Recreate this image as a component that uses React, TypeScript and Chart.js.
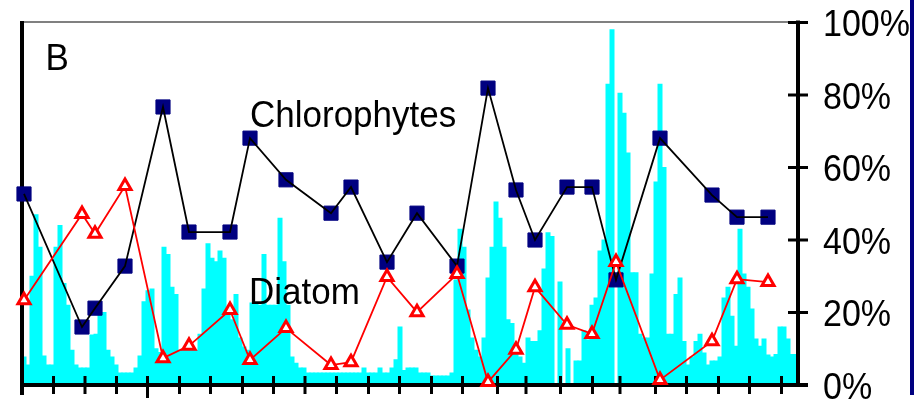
import React, { useEffect, useRef } from 'react';
import { Chart, registerables } from 'chart.js';

Chart.register(...registerables);

// Cyan bars: one value every 4 days (% of total)
const cyanValues = [
  7.7, 5.5, 30, 47, 38, 8, 5.5, 5.5, 38, 44,
  28, 22, 9.6, 5.5, 4.7, 4.7, 4.7, 13.8, 14, 20,
  20, 9.6, 7.7, 5.5, 3.3, 3.3, 3.3, 3.3, 4.7, 8,
  23, 26, 26.5, 10, 9, 38, 36, 27, 25, 9.6,
  9.6, 9.6, 9.6, 9.6, 14, 26.5, 39, 35, 34, 37,
  35, 20, 18, 25, 13, 10.5, 9.6, 22.6, 22.6, 22,
  36, 22, 22, 22, 46, 34, 22, 7.7, 6, 4.7,
  4.7, 3.3, 3.3, 3.3, 3.3, 3.3, 3.3, 3.3, 3.3, 3.3,
  3.3, 3.3, 3.3, 3.3, 3.3, 4.7, 3.3, 3.3, 3.3, 4.7,
  3.3, 3.3, 4.7, 7, 16, 4, 4.7, 4.7, 4.7, 3.3,
  3.3, 3.3, 2.5, 2.5, 2.5, 2.5, 2.5, 3.3, 29, 43,
  38, 20.7, 13, 9.6, 7.7, 13, 29.5, 38, 50.5, 46,
  38, 18, 17, 9.6, 7.7, 6, 13, 12, 12, 15,
  32, 42, 41, 0, 28.4, 0, 10, 0, 6.6, 6.6,
  15, 12.4, 22, 24, 37, 40, 83, 98, 0, 80.5,
  75, 64, 31, 31, 14, 13, 13, 30.6, 56, 83,
  60, 14, 14, 25, 29.5, 12, 5.5, 7.7, 12, 14,
  8.8, 5.5, 6.6, 6.6, 7.7, 24, 27, 19, 10.7, 43,
  30.6, 27, 21, 12.7, 10.7, 12.7, 8.3, 7.7, 8.4, 16,
  16, 12.7, 8.4, 8.4,
];
const barStep = 4;
const barDays = cyanValues.map((_, i) => barStep * i + barStep / 2);

// Sampling dates (day offsets) for the two lines
const sampleDays = [
  2, 60, 73, 103, 141, 167, 208, 228, 264, 309, 329, 365,
  395, 435, 466, 494, 513, 545, 570, 594, 638, 690, 715, 746,
];
const chlorophytes = [
  52.7, 16.0, 21.2, 32.8, 76.7, 42.2, 42.2, 68.1, 56.6, 47.4, 54.6, 33.9,
  47.4, 32.8, 81.9, 53.8, 40.0, 54.6, 54.6, 29.0, 68.1, 52.4, 46.3, 46.3,
];
const diatom = [
  23.4, 47.2, 41.7, 54.9, 7.4, 10.8, 20.7, 6.9, 15.7, 5.5, 6.3, 29.8,
  20.1, 30.6, 0.8, 9.7, 27.0, 16.6, 14.1, 33.9, 1.4, 12.1, 29.2, 28.4,
];

// Axes
const xMaxDay = 776;
const xTickDays = [
  0, 31.5, 63, 94.5, 125.5, 157.5, 188.5, 220.5, 251.5, 283, 314.5, 346.5, 377.5, 409.5, 440.5,
  475.5, 504, 538.5, 570.5, 598, 633.5, 664.5, 696.5, 727.5, 759.5,
];
const longTickDays = [125.5];
const yTickValues = [0, 20, 40, 60, 80, 100];
const yTickLabels = ['0%', '20%', '40%', '60%', '80%', '100%'];

const panelLabel = 'B';
const chloroLabel = 'Chlorophytes';
const diatomLabel = 'Diatom';

const FONT = '"Liberation Sans", Arial, sans-serif';

function stretchedText(ctx: CanvasRenderingContext2D, text: string, x: number, y: number, size: number, sy: number) {
  ctx.save();
  ctx.translate(x, y);
  ctx.scale(1, sy);
  ctx.font = `${size}px ${FONT}`;
  ctx.fillStyle = '#000';
  ctx.textAlign = 'left';
  ctx.textBaseline = 'alphabetic';
  ctx.fillText(text, 0, 0);
  ctx.restore();
}

const axisPlugin = {
  id: 'customAxes',
  afterDatasetDraw(chart: any, args: any) {
    if (args.index !== 0) return;
    const ctx: CanvasRenderingContext2D = chart.ctx;
    const xs = chart.scales.x;
    const ys = chart.scales.y;
    const left = xs.getPixelForValue(0);
    const right = xs.getPixelForValue(xMaxDay);
    const top = ys.getPixelForValue(100);
    const bottom = ys.getPixelForValue(0);
    ctx.save();
    ctx.lineCap = 'butt';
    // top frame line
    ctx.strokeStyle = '#808080';
    ctx.lineWidth = 2;
    ctx.beginPath();
    ctx.moveTo(left, top - 0.5);
    ctx.lineTo(right, top - 0.5);
    ctx.stroke();
    ctx.strokeStyle = '#000';
    // left axis
    ctx.lineWidth = 4;
    ctx.beginPath();
    ctx.moveTo(left, top - 1.5);
    ctx.lineTo(left, bottom + 10);
    ctx.stroke();
    // right axis
    ctx.beginPath();
    ctx.moveTo(right, top - 2);
    ctx.lineTo(right, bottom + 2);
    ctx.stroke();
    // bottom axis
    ctx.beginPath();
    ctx.moveTo(left - 2, bottom);
    ctx.lineTo(right + 10, bottom);
    ctx.stroke();
    // bottom ticks
    ctx.lineWidth = 3;
    xTickDays.forEach((d) => {
      const px = xs.getPixelForValue(d);
      const long = longTickDays.includes(d);
      ctx.beginPath();
      ctx.moveTo(px, bottom - 9);
      ctx.lineTo(px, bottom + (long ? 13 : 9));
      ctx.stroke();
    });
    // right ticks + labels
    yTickValues.forEach((v, i) => {
      const py = ys.getPixelForValue(v);
      ctx.beginPath();
      ctx.moveTo(right - 10, py);
      ctx.lineTo(right + 10, py);
      ctx.stroke();
      stretchedText(ctx, yTickLabels[i], right + 25, py + 13.5, 34, 1.07);
    });
    ctx.restore();
  },
  afterDraw(chart: any) {
    const ctx: CanvasRenderingContext2D = chart.ctx;
    stretchedText(ctx, panelLabel, 45.5, 70, 35, 1.07);
    stretchedText(ctx, chloroLabel, 250, 127, 35, 1.07);
    stretchedText(ctx, diatomLabel, 249, 304, 35, 1.07);
    // navy frame edge at far right of the figure
    ctx.save();
    ctx.strokeStyle = '#000080';
    ctx.lineWidth = 4;
    ctx.beginPath();
    ctx.moveTo(chart.width - 2, 0);
    ctx.lineTo(chart.width - 2, 395);
    ctx.stroke();
    ctx.restore();
  },
};

export default function App() {
  const ref = useRef<HTMLCanvasElement>(null);
  useEffect(() => {
    const canvas = ref.current!;
    const chart = new Chart(canvas, {
      type: 'bar',
      data: {
        datasets: [
          {
            type: 'bar',
            data: cyanValues.map((v, i) => ({ x: barDays[i], y: v })),
            backgroundColor: '#00FFFF',
            borderWidth: 0,
            barPercentage: 1,
            categoryPercentage: 1,
            inflateAmount: 0.5,
            order: 10,
          } as any,
          {
            type: 'line',
            data: chlorophytes.map((v, i) => ({ x: sampleDays[i], y: v })),
            showLine: false,
            pointStyle: 'rect',
            pointRadius: 10,
            pointBackgroundColor: '#000080',
            pointBorderColor: '#000080',
            pointBorderWidth: 1,
            clip: false,
            order: 3,
          } as any,
          {
            type: 'line',
            data: chlorophytes.map((v, i) => ({ x: sampleDays[i], y: v })),
            borderColor: '#000000',
            borderWidth: 1.8,
            pointRadius: 0,
            tension: 0,
            fill: false,
            clip: false,
            order: 2,
          } as any,
          {
            type: 'line',
            data: diatom.map((v, i) => ({ x: sampleDays[i], y: v })),
            borderColor: '#FF0000',
            borderWidth: 1.8,
            pointStyle: 'triangle',
            pointRadius: 7,
            pointBorderWidth: 3,
            pointBackgroundColor: '#FFFFFF',
            pointBorderColor: '#FF0000',
            tension: 0,
            fill: false,
            clip: false,
            order: 1,
          } as any,
        ],
      },
      options: {
        responsive: false,
        animation: false,
        events: [],
        layout: { padding: { left: 22, top: 22.5, right: 116, bottom: 20 } },
        plugins: { legend: { display: false }, tooltip: { enabled: false } },
        scales: {
          x: { type: 'linear', min: 0, max: xMaxDay, offset: false, display: false },
          y: { type: 'linear', min: 0, max: 100, display: false },
        },
      } as any,
      plugins: [axisPlugin as any],
    });
    return () => chart.destroy();
  }, []);
  return (
    <div style={{ position: 'fixed', left: 0, top: 0, width: 914, height: 405, background: '#fff' }}>
      <canvas ref={ref} width={914} height={405} style={{ display: 'block' }} />
    </div>
  );
}
